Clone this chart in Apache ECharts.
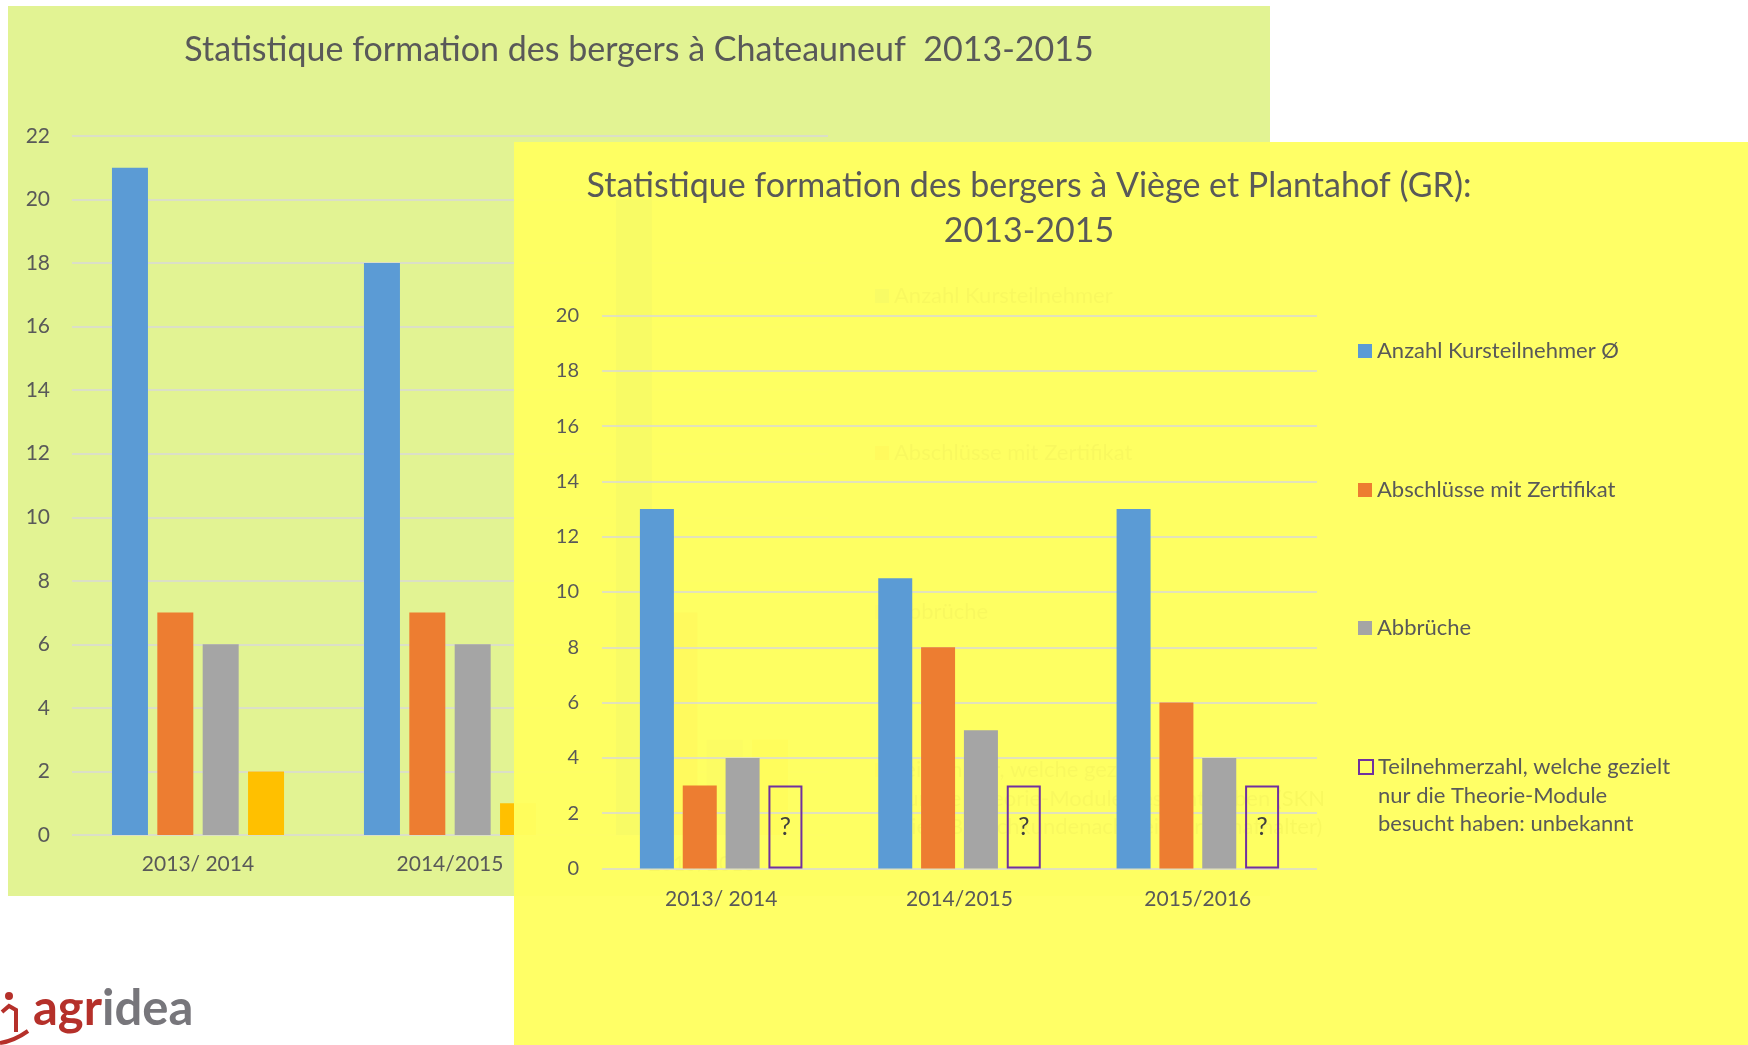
<!DOCTYPE html>
<html>
<head>
<meta charset="utf-8">
<script src="https://cdn.jsdelivr.net/npm/echarts@6/dist/echarts.min.js"></script>
<style>
  html, body { margin: 0; padding: 0; background: #fff; }
  #greenPanel { position: absolute; left: 8px; top: 6px; width: 1262px; height: 890px; background: #E2F393; }
  #chartLeft { position: absolute; left: 0; top: 0; width: 1748px; height: 1045px; }
  #chartRight { position: absolute; left: 514px; top: 142px; width: 1234px; height: 903px; }
</style>
</head>
<body>
<div id="greenPanel"></div>
<div id="chartLeft"></div>
<div id="chartRight"></div>
<script>
// categories (both charts)
const yearsLeft = ["2013/ 2014", "2014/2015", "2015/2016"];
const yearsRight = ["2013/ 2014", "2014/2015", "2015/2016"];

// Chateauneuf (back chart)
const chatNames = [
  "Anzahl Kursteilnehmer",
  "Abschlüsse mit Zertifikat",
  "Abbrüche",
  "Teilnehmer, welche gezielt\nnur die Theorie-Module besucht haben (SKN\nwie z.B. Sachkundenachweis für Schafhalter)"
];
const chatTeilnehmer = [21, 18, 20];
const chatZertifikat = [7, 7, 7];
const chatAbbrueche = [6, 6, 3];
const chatTheorie = [2, 1, 3];
const chatAxisMax = 22;

// Viège et Plantahof (front chart)
const gpNames = [
  "Anzahl Kursteilnehmer Ø",
  "Abschlüsse mit Zertifikat",
  "Abbrüche",
  "Teilnehmerzahl, welche gezielt\nnur die Theorie-Module\nbesucht haben: unbekannt"
];
const gpTeilnehmer = [13, 10.5, 13];
const gpZertifikat = [3, 8, 6];
const gpAbbrueche = [4, 5, 4];
const gpTheorie = [3, 3, 3];
const gpAxisMax = 20;

const FONT = "Lato, 'Open Sans', sans-serif";
const TXT = "#595959";
const GRID = "#D9D9D9";
const colors = ["#5B9BD5", "#ED7D31", "#A5A5A5", "#FFC000"];
const LH = 28.6;

// one legend component per entry, so each can sit where Excel put it
function legendItem(name, x, cy, itemStyle) {
  const lines = name.split("\n").length;
  // blank lines on top keep the icon level with the first text line
  const lead = "\n".repeat(lines - 1);
  const half = (2 * lines - 1) * LH / 2;
  const lg = {
    data: [name],
    left: x,
    top: cy - half,
    padding: 0,
    icon: "rect",
    itemWidth: 14,
    itemHeight: 14,
    selectedMode: false,
    formatter: function (n) { return lead + n; },
    textStyle: { fontFamily: FONT, fontSize: 22, color: TXT, lineHeight: LH }
  };
  if (itemStyle) lg.itemStyle = itemStyle;
  return lg;
}

function barSeries(name, data, color, width) {
  return { name: name, type: "bar", data: data, barWidth: width, barGap: "26%", itemStyle: { color: color } };
}

// ---------- back chart ----------
const left = echarts.init(document.getElementById("chartLeft"));
left.setOption({
  animation: false,
  textStyle: { fontFamily: FONT },
  title: {
    text: "Statistique formation des bergers à Chateauneuf  2013-2015",
    left: 639, top: 29, padding: 0,
    textAlign: "center", textVerticalAlign: "top",
    textStyle: { fontSize: 34, fontWeight: "normal", color: TXT, lineHeight: 42, fontFamily: FONT }
  },
  legend: [
    legendItem(chatNames[0], 875, 296),
    legendItem(chatNames[1], 875, 453),
    legendItem(chatNames[2], 875, 612),
    legendItem(chatNames[3], 875, 770)
  ],
  grid: { left: 72, top: 136, width: 756, height: 699 },
  xAxis: {
    type: "category", data: yearsLeft,
    axisLine: { show: false }, axisTick: { show: false },
    axisLabel: { fontSize: 21, color: TXT, margin: 19 }
  },
  yAxis: {
    type: "value", min: 0, max: chatAxisMax, interval: 2,
    axisLabel: { fontSize: 21, color: TXT, margin: 22 },
    splitLine: { lineStyle: { color: GRID, width: 1.5 } }
  },
  series: [
    barSeries(chatNames[0], chatTeilnehmer, colors[0], 36),
    barSeries(chatNames[1], chatZertifikat, colors[1], 36),
    barSeries(chatNames[2], chatAbbrueche, colors[2], 36),
    barSeries(chatNames[3], chatTheorie, colors[3], 36)
  ],
  graphic: [
    // agridea logo
    { type: "circle", shape: { cx: 9, cy: 996, r: 4 }, style: { fill: "#B5302A" } },
    { type: "polyline", shape: { points: [[2, 1012], [9, 1006], [16, 1010], [16, 1032]] },
      style: { fill: null, stroke: "#B5302A", lineWidth: 4 } },
    { type: "bezierCurve", shape: { x1: 0, y1: 1043, cpx1: 14, cpy1: 1041, x2: 28, y2: 1031 },
      style: { fill: null, stroke: "#B5302A", lineWidth: 4 } },
    { type: "text", left: 33, top: 985,
      style: {
        text: "{a|agr}{b|idea}",
        rich: {
          a: { fill: "#B5302A", fontSize: 49, fontWeight: "bold", fontFamily: FONT },
          b: { fill: "#77767B", fontSize: 49, fontWeight: "bold", fontFamily: FONT }
        }
      } }
  ]
});

// ---------- front chart (semi-transparent yellow panel) ----------
const right = echarts.init(document.getElementById("chartRight"));
right.setOption({
  animation: false,
  backgroundColor: "rgba(255,255,96,0.96)",
  textStyle: { fontFamily: FONT },
  title: {
    text: "Statistique formation des bergers à Viège et Plantahof (GR):\n2013-2015",
    left: 515, top: 21.5, padding: 0,
    textAlign: "center", textVerticalAlign: "top",
    textStyle: { fontSize: 34, fontWeight: "normal", color: TXT, lineHeight: 45, fontFamily: FONT }
  },
  legend: [
    legendItem(gpNames[0], 844, 209),
    legendItem(gpNames[1], 844, 348),
    legendItem(gpNames[2], 844, 486),
    legendItem(gpNames[3], 844, 625, { color: "transparent", borderColor: "#7030A0", borderWidth: 2 })
  ],
  grid: { left: 88, top: 173.5, width: 715, height: 553 },
  xAxis: {
    type: "category", data: yearsRight,
    axisLine: { show: false }, axisTick: { show: false },
    axisLabel: { fontSize: 21, color: TXT, margin: 20 }
  },
  yAxis: {
    type: "value", min: 0, max: gpAxisMax, interval: 2,
    axisLabel: { fontSize: 20, color: TXT, margin: 23 },
    splitLine: { lineStyle: { color: GRID, width: 1.5 } }
  },
  series: [
    barSeries(gpNames[0], gpTeilnehmer, colors[0], 34),
    barSeries(gpNames[1], gpZertifikat, colors[1], 34),
    barSeries(gpNames[2], gpAbbrueche, colors[2], 34),
    {
      name: gpNames[3], type: "bar", data: gpTheorie, barWidth: 34, barGap: "26%",
      itemStyle: { color: "transparent", borderColor: "#7030A0", borderWidth: 2 },
      label: { show: true, position: "inside", formatter: "?", fontSize: 25, color: "#404040" }
    }
  ]
});
</script>
</body>
</html>
